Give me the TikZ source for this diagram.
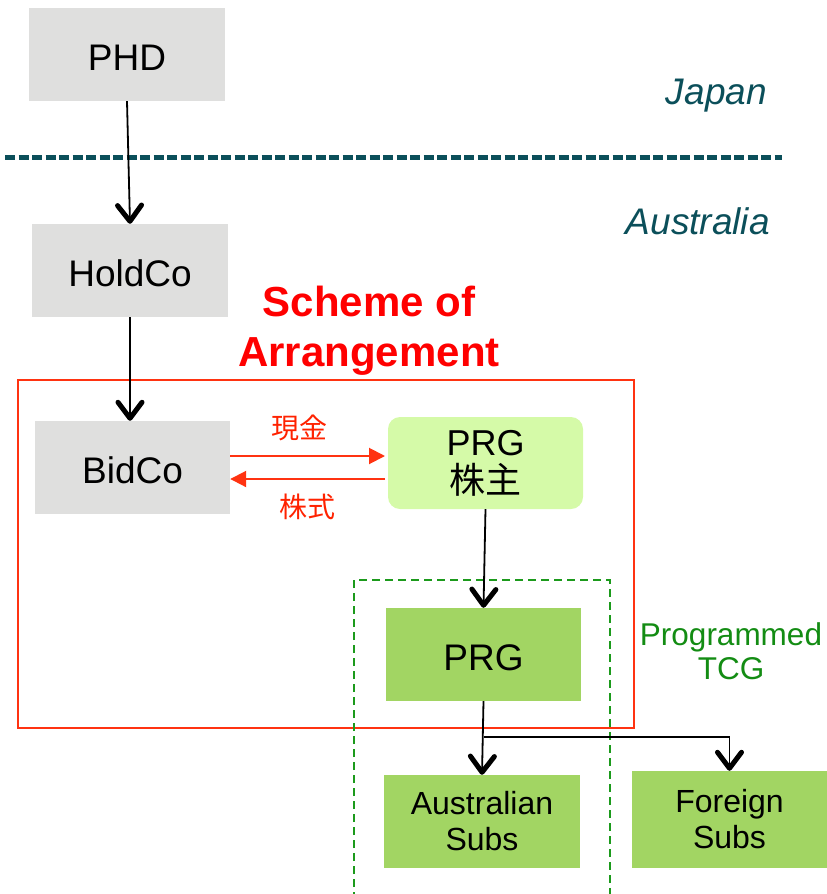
\documentclass[tikz,border=0pt]{standalone}
\usepackage{fontspec}
\setmainfont{Liberation Sans}
\newfontfamily\cjk{Noto Sans CJK JP}
\usetikzlibrary{arrows.meta}
\definecolor{boxgray}{HTML}{DFDFDE}
\definecolor{lightgreen}{HTML}{D5FAA8}
\definecolor{midgreen}{HTML}{A2D563}
\definecolor{teal}{HTML}{0B4F5A}
\definecolor{tcggreen}{HTML}{138C13}
\definecolor{dashgreen}{HTML}{1C9A1C}
\definecolor{schemered}{HTML}{FF3311}
\definecolor{labelred}{HTML}{FF2200}
\definecolor{titlered}{HTML}{FF0000}
\tikzset{
  entity/.style={minimum width=196pt, minimum height=93pt, inner sep=0pt, align=center,
    font=\fontsize{37}{42}\selectfont},
  oneline/.style={align=none, text height=32pt, text depth=0pt},
  graybox/.style={entity, oneline, fill=boxgray},
  greenbox/.style={entity, oneline, fill=midgreen},
  subbox/.style={entity, fill=midgreen, font=\fontsize{32}{36}\selectfont},
  holderbox/.style={entity, fill=lightgreen, rounded corners=12pt, font=\fontsize{36}{38}\selectfont},
  region/.style={teal, font=\fontsize{37}{40}\selectfont\itshape, inner sep=0pt},
  own/.style={black, line width=1.8pt, -{Straight Barb[length=16pt,width=24pt,line width=5pt,round]}},
  flow/.style={schemered, line width=2pt, -{Triangle[length=16pt,width=16pt]}},
  flowlabel/.style={labelred, font=\cjk\fontsize{28}{30}\selectfont, inner sep=0pt},
}
\begin{document}
\begin{tikzpicture}[x=1pt,y=-1pt]
\useasboundingbox (0,0) rectangle (827,894);
% regions
\node[region, anchor=east] (japan) at (767,96) {Japan};
\node[region, anchor=east] (australia) at (770,221) {Australia};
\draw[teal, line width=5pt, dash pattern=on 10pt off 3.5pt] (5,157) -- (782,157);
% frames
\draw[schemered, line width=2pt] (18,380) rectangle (634,728);
\draw[dashgreen, line width=2pt, dash pattern=on 8pt off 5pt] (354,900) -- (354,580) -- (610,580) -- (610,900);
\node[titlered, font=\fontsize{42}{50}\selectfont\bfseries, align=center, inner sep=0pt] (scheme) at (369,331) {Scheme of\\Arrangement};
\node[tcggreen, font=\fontsize{31.5}{34}\selectfont, align=center, inner sep=0pt] (tcg) at (731,651) {Programmed\\TCG};
% nodes
\node[graybox] (phd) at (127,54.5) {PHD};
\node[graybox] (holdco) at (130,270.5) {HoldCo};
\node[graybox, minimum width=195pt] (bidco) at (132.5,467.5) {BidCo};
\node[holderbox, minimum width=195pt, minimum height=92pt] (holders) at (485.5,463) {PRG\\{\cjk 株主}};
\node[greenbox, minimum width=195pt] (prg) at (483.5,654.5) {PRG};
\node[subbox] (aus) at (482,821.5) {Australian\\Subs};
\node[subbox, minimum width=195pt, minimum height=97pt] (foreign) at (729.5,819.5) {Foreign\\Subs};
% ownership arrows
\draw[own] (phd.south) -- (holdco.north);
\draw[own] (holdco.south) -- (holdco.south |- bidco.north);
\draw[own] (holders.south) -- (prg.north);
\draw[own] (prg.south) -- (aus.north);
\coordinate (branch) at (484,737);
\draw[own] (branch) -- (branch -| foreign.north) -- (foreign.north);
% cash and shares
\draw[flow] (bidco.east |- 0,456) -- (385,456);
\draw[flow] (385,479) -- (bidco.east |- 0,479);
\node[flowlabel] (cash) at (299,428) {現金};
\node[flowlabel] (shares) at (307,507) {株式};
\end{tikzpicture}
\end{document}
